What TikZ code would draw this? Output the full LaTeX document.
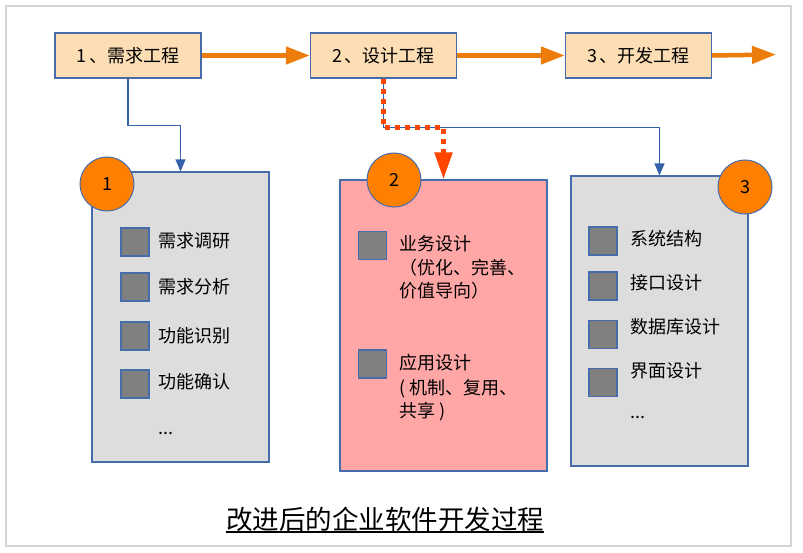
\documentclass[tikz,border=0pt]{standalone}
\usepackage{fontspec}
\setmainfont{Noto Sans CJK SC}
\usetikzlibrary{arrows.meta}
\definecolor{peach}{RGB}{252,221,180}
\definecolor{bord}{RGB}{70,108,172}
\definecolor{conn}{RGB}{52,98,168}
\definecolor{orarrow}{RGB}{237,125,10}
\definecolor{circ}{RGB}{255,128,0}
\definecolor{panel}{RGB}{221,221,221}
\definecolor{pinkpanel}{RGB}{255,166,166}
\definecolor{sq}{RGB}{128,128,128}
\definecolor{reddot}{RGB}{255,69,0}
\definecolor{framec}{RGB}{212,212,212}
\begin{document}
\begin{tikzpicture}[x=1pt,y=-1pt,
  stage/.style={draw=bord,line width=1.2pt,fill=peach,minimum width=146pt,minimum height=45pt,inner sep=0pt,font=\fontsize{18}{20}\selectfont},
  panelbox/.style={draw=bord,line width=1.2pt,inner sep=0pt},
  numcirc/.style={circle,draw=bord,line width=1pt,fill=circ,minimum size=54pt,inner sep=0pt,font=\fontsize{18}{20}\selectfont},
  itemsq/.style={draw=bord,line width=1.2pt,fill=sq,minimum size=28pt,inner sep=0pt},
  itemtxt/.style={anchor=base west,inner sep=0pt,font=\fontsize{18}{20}\selectfont},
  orarr/.style={draw=orarrow,line width=4.5pt,-{Triangle[length=24pt,width=17pt]}},
  bluearr/.style={draw=conn,line width=1.3pt,-{Triangle[length=12pt,width=10pt]}},
  redarr/.style={draw=reddot,line width=5pt,dash pattern=on 5.5pt off 4.5pt,-{Triangle[length=27pt,width=17pt]}}
]
\useasboundingbox (0,0) rectangle (803,553);
\draw[framec,line width=1.5pt] (6,6) rectangle (791,546);

% stage boxes
\node[stage] (b1) at (128,55.5) {1\kern3pt、需求工程};
\node[stage] (b2) at (383.5,55.5) {2\kern3pt、设计工程};
\node[stage] (b3) at (638.5,55.5) {3\kern3pt、开发工程};
\coordinate (bend) at (776,54.5);

% panels
\node[panelbox,fill=panel,minimum width=177pt,minimum height=290pt] (g1) at (180.5,317) {};
\node[panelbox,fill=pinkpanel,minimum width=207pt,minimum height=291pt] (g2) at (443.5,325.5) {};
\node[panelbox,fill=panel,minimum width=177pt,minimum height=290pt] (g3) at (659.5,321) {};

% connectors
\draw[orarr] (b1.east) -- (b2.west);
\draw[orarr] (b2.east) -- (b3.west);
\draw[orarr] (b3.east) -- (bend);
\draw[bluearr] (b1.south) -- ++(0,47) -| (g1.north);
\draw[bluearr] (b2.south) -- ++(0,49) -| (g3.north);
\draw[redarr] (b2.south) -- ++(0,49) -| (g2.north);

% circles
\node[numcirc] (c1) at (107,184) {1};
\node[numcirc] (c2) at (394,180) {2};
\node[numcirc] (c3) at (745,187) {3};

% panel 1 items
\node[itemsq] (s11) at (135,242) {};
\node[itemsq] (s12) at (135,287) {};
\node[itemsq] (s13) at (135,336) {};
\node[itemsq] (s14) at (135,384) {};
\node[itemtxt] (t11) at (158,248) {需求调研};
\node[itemtxt] (t12) at (158,293.5) {需求分析};
\node[itemtxt] (t13) at (158,342) {功能识别};
\node[itemtxt] (t14) at (158,388.5) {功能确认};
\node[itemtxt] (t15) at (158,434) {...};

% panel 2 items
\node[itemsq] (s21) at (372.5,245.5) {};
\node[itemsq] (s22) at (372.5,364) {};
\node[itemtxt] (t21a) at (399,251) {业务设计};
\node[itemtxt] (t21b) at (399,274.5) {（优化、完善、};
\node[itemtxt] (t21c) at (399,297.5) {价值导向）};
\node[itemtxt] (t22a) at (399,369.5) {应用设计};
\node[itemtxt] (t22b) at (399,394.5) {( 机制、复用、};
\node[itemtxt] (t22c) at (399,417.5) {共享 )};

% panel 3 items
\node[itemsq] (s31) at (603,241) {};
\node[itemsq] (s32) at (603,286) {};
\node[itemsq] (s33) at (603,334.5) {};
\node[itemsq] (s34) at (603,382.5) {};
\node[itemtxt] (t31) at (630,245.5) {系统结构};
\node[itemtxt] (t32) at (630,290) {接口设计};
\node[itemtxt] (t33) at (630,333.5) {数据库设计};
\node[itemtxt] (t34) at (630,377.5) {界面设计};
\node[itemtxt] (t35) at (630,418) {...};

% title
\node[anchor=base,inner sep=0pt,font=\fontsize{26.5}{30}\selectfont] (title) at (385,529.5) {改进后的企业软件开发过程};
\draw[black,line width=2pt] ([yshift=-2pt]title.base west) -- ([yshift=-2pt]title.base east);
\end{tikzpicture}
\end{document}
